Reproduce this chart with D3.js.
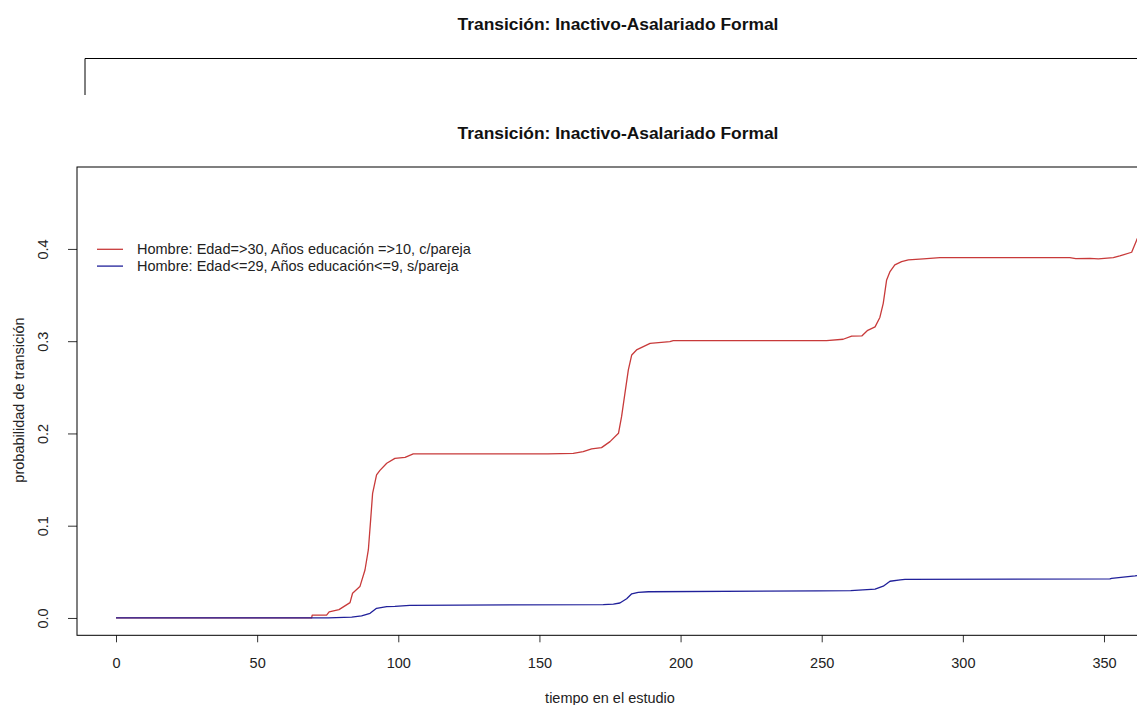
<!DOCTYPE html>
<html>
<head>
<meta charset="utf-8">
<script src="https://cdn.jsdelivr.net/npm/d3@7"></script>
<style>
  body { margin: 0; background: #fff; }
  svg { display: block; font-family: "Liberation Sans", Arial, sans-serif; }
  .axis text { font-size: 14.5px; fill: #222; }
</style>
</head>
<body>
<script>
// data: tiempo (x) and probabilidad (y)
var titleText = "Transición: Inactivo-Asalariado Formal";
var xLabel = "tiempo en el estudio";
var yLabel = "probabilidad de transición";
var seriesNames = ["Hombre: Edad=>30, Años educación =>10, c/pareja",
                   "Hombre: Edad<=29, Años educación<=9, s/pareja"];
var seriesColors = ["#c83a3a", "#20209a"];
var xTicks = [0, 50, 100, 150, 200, 250, 300, 350];
var yTicks = [0, 0.1, 0.2, 0.3, 0.4];

var redT = [0, 69.3, 69.5, 74.6, 75.5, 79, 82.9, 83.8, 86.4, 88.2, 89.4, 90.2, 90.9, 92.3, 93.5, 95.9,
            98.8, 102.4, 105.3, 153, 162, 165.5, 168.5, 172, 175, 178, 179.1, 180.3, 181.5, 182.7,
            184.4, 186.8, 189.2, 196.2, 197.4, 251.7, 257.6, 260.6, 264.2, 266.3, 268.9, 270.6,
            271.8, 273, 274.2, 275.9, 278.3, 280.7, 286, 291.9, 337.9, 340, 345, 348, 353.3, 355.6,
            359.8, 361.6, 364];
var redP = [0, 0, 0.003, 0.003, 0.0065, 0.009, 0.0166, 0.0268, 0.034, 0.052, 0.074, 0.106, 0.135,
            0.155, 0.160, 0.1677, 0.173, 0.174, 0.1778, 0.1778, 0.1785, 0.1803, 0.1832, 0.1846,
            0.1911, 0.2002, 0.2182, 0.2436, 0.2688, 0.2851, 0.2905, 0.2941, 0.2977, 0.2995, 0.3006,
            0.3006, 0.3021, 0.3055, 0.3057, 0.3118, 0.3155, 0.3257, 0.341, 0.3664, 0.3754, 0.3827,
            0.3862, 0.3881, 0.3892, 0.3906, 0.3906, 0.3895, 0.3898, 0.3893, 0.3906, 0.3924, 0.3964,
            0.4098, 0.425];

var blueT = [0, 75.2, 83.5, 87, 90, 92.3, 95.9, 98.8, 104.1, 172.6, 176.2, 178.5, 180.9, 182.7, 185,
             188.6, 249, 260.3, 268.9, 271.8, 274.2, 277.8, 279.5, 352.1, 352.7, 361, 364];
var blueP = [0, 0, 0.001, 0.0022, 0.005, 0.0105, 0.0123, 0.0125, 0.0137, 0.0145, 0.0150, 0.0162,
             0.0208, 0.0262, 0.0278, 0.0284, 0.0293, 0.0296, 0.0312, 0.0344, 0.0398, 0.0412, 0.0419,
             0.0423, 0.043, 0.0455, 0.047];

var W = 1137, H = 705;
// plot box (right side runs off the page like in the screenshot)
var box = {left: 77, top: 167, right: 1150, bottom: 635.3};

var svg = d3.select("body").append("svg")
    .attr("width", W)
    .attr("height", H);

svg.append("rect").attr("width", W).attr("height", H).attr("fill", "#fff");

// remains of the upper plot
svg.append("text")
    .attr("x", 618).attr("y", 29.5)
    .attr("text-anchor", "middle")
    .style("font-size", "17.4px").style("font-weight", "bold").style("fill", "#111")
    .text(titleText);
svg.append("path")
    .attr("d", "M85,95V58.5H1137")
    .attr("fill", "none").attr("stroke", "#000").attr("stroke-width", 1);

// scales
var x = d3.scaleLinear().domain([-13.82, 366.3]).range([box.left, box.right]);
var y = d3.scaleLinear().domain([-0.0188, 0.4888]).range([box.bottom, box.top]);

svg.append("text")
    .attr("x", 618).attr("y", 138.5)
    .attr("text-anchor", "middle")
    .style("font-size", "17.4px").style("font-weight", "bold").style("fill", "#111")
    .text(titleText);

// clip lines to the box
svg.append("clipPath").attr("id", "plotclip")
    .append("rect")
    .attr("x", box.left).attr("y", box.top)
    .attr("width", box.right - box.left).attr("height", box.bottom - box.top);

var line = d3.line()
    .x(function (d) { return x(d[0]); })
    .y(function (d) { return y(d[1]); });

var series = [d3.zip(redT, redP), d3.zip(blueT, blueP)];

svg.append("g").attr("clip-path", "url(#plotclip)")
    .selectAll("path")
    .data(series)
    .enter()
    .append("path")
    .attr("d", line)
    .attr("fill", "none")
    .attr("stroke", function (d, i) { return seriesColors[i]; })
    .attr("stroke-width", 1.3)
    .attr("stroke-linejoin", "round");

// x axis
var xAxis = d3.axisBottom(x).tickValues(xTicks).tickSize(7).tickPadding(15);
var gx = svg.append("g")
    .attr("class", "axis")
    .attr("transform", "translate(0," + box.bottom + ")")
    .call(xAxis);
gx.select(".domain").remove();
gx.selectAll(".tick line").attr("stroke", "#333");
gx.selectAll("text").attr("font-family", null);

// y axis, labels turned like in R
var yAxis = d3.axisLeft(y).tickValues(yTicks).tickSize(9).tickFormat(d3.format(".1f"));
var gy = svg.append("g")
    .attr("class", "axis")
    .attr("transform", "translate(" + box.left + ",0)")
    .call(yAxis);
gy.select(".domain").remove();
gy.selectAll(".tick line").attr("stroke", "#333");
gy.selectAll("text")
    .attr("font-family", null)
    .attr("text-anchor", "middle")
    .attr("x", null).attr("dy", null)
    .attr("transform", "translate(-29,0) rotate(-90)");

// box
svg.append("rect")
    .attr("x", box.left).attr("y", box.top)
    .attr("width", box.right - box.left).attr("height", box.bottom - box.top)
    .attr("fill", "none").attr("stroke", "#000").attr("stroke-width", 1);

// axis titles
svg.append("text")
    .attr("x", 610).attr("y", 703)
    .attr("text-anchor", "middle")
    .style("font-size", "14.5px").style("fill", "#222")
    .text(xLabel);
svg.append("text")
    .attr("transform", "translate(23.5,400) rotate(-90)")
    .attr("text-anchor", "middle")
    .style("font-size", "14.5px").style("fill", "#222")
    .text(yLabel);

// legend
var legend = svg.append("g").selectAll("g")
    .data(seriesNames)
    .enter()
    .append("g")
    .attr("transform", function (d, i) { return "translate(0," + (249.3 + i * 16.8) + ")"; });
legend.append("line")
    .attr("x1", 97).attr("x2", 123)
    .attr("stroke", function (d, i) { return seriesColors[i]; })
    .attr("stroke-width", 1.3);
legend.append("text")
    .attr("x", 137).attr("y", 5)
    .style("font-size", "14.5px").style("fill", "#222")
    .text(function (d) { return d; });
</script>
</body>
</html>
